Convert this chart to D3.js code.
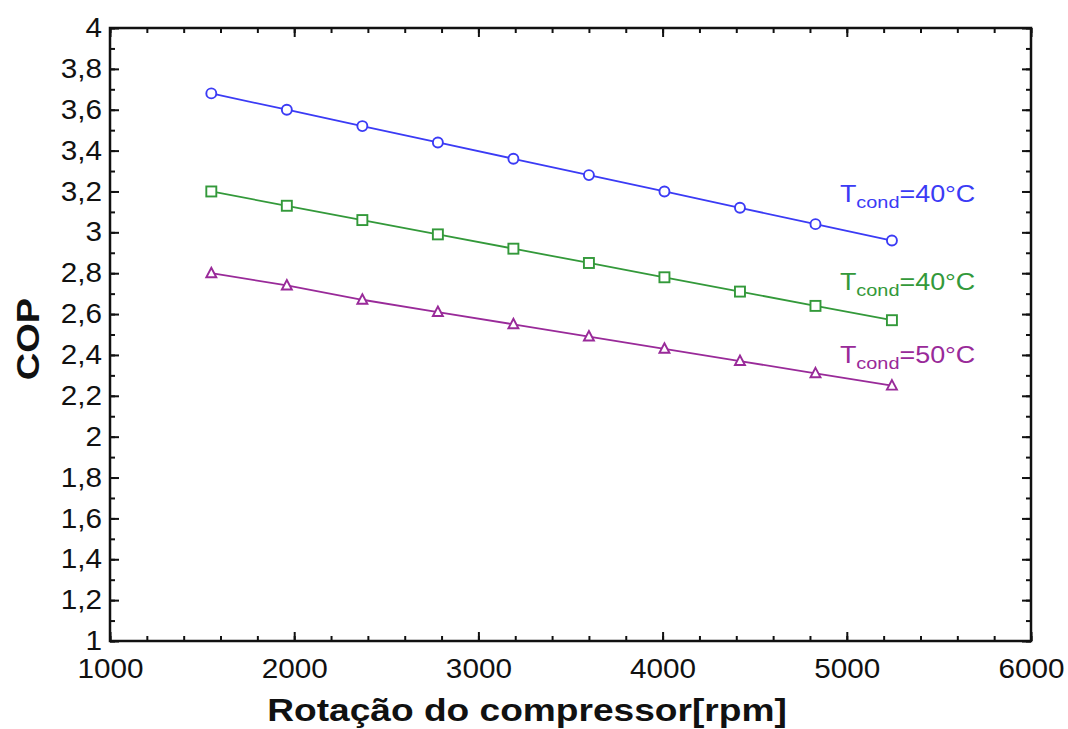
<!DOCTYPE html>
<html>
<head>
<meta charset="utf-8">
<script src="https://cdn.jsdelivr.net/npm/d3@7"></script>
<style>
  body { margin: 0; background: #fff; }
  svg { font-family: "Liberation Sans", Arial, sans-serif; }
</style>
</head>
<body>
<svg></svg>
<script>
"use strict";

const rpm = [1550, 1960, 2370, 2780, 3190, 3600, 4010, 4420, 4830, 5245];
const cop40a = [3.68, 3.6, 3.52, 3.44, 3.36, 3.28, 3.2, 3.12, 3.04, 2.96];
const cop40b = [3.2, 3.13, 3.06, 2.99, 2.92, 2.85, 2.78, 2.71, 2.64, 2.57];
const cop50 = [2.8, 2.74, 2.67, 2.61, 2.55, 2.49, 2.43, 2.37, 2.31, 2.25];
const seriesLabels = ["=40°C", "=40°C", "=50°C"];
const xTicks = [1000, 2000, 3000, 4000, 5000, 6000];
const yTicks = [1, 1.2, 1.4, 1.6, 1.8, 2, 2.2, 2.4, 2.6, 2.8, 3, 3.2, 3.4, 3.6, 3.8, 4];

const width = 1068;
const height = 729;
const margin = { left: 110, right: 37, top: 28, bottom: 88 };

const svg = d3.select("svg").attr("width", width).attr("height", height);

const xScale = d3.scaleLinear().domain([1000, 6000]).range([margin.left, width - margin.right]);
const yScale = d3.scaleLinear().domain([1, 4]).range([height - margin.bottom, margin.top]);

const fmt = (d) => String(Math.round(d * 10) / 10).replace(".", ",");

const series = [
  { values: cop40a, color: "#3b3bf5", marker: "circle", labelY: 3.15 },
  { values: cop40b, color: "#33993a", marker: "square", labelY: 2.72 },
  { values: cop50, color: "#992a99", marker: "triangle", labelY: 2.36 }
];

// minor ticks
const xMinor = d3.range(1000, 6001, 200);
const yMinor = d3.range(10, 41).map((d) => d / 10);

// the original font is wider than Liberation Sans
const widen = (sel, f) => {
  sel.each(function () {
    const w = this.getComputedTextLength();
    d3.select(this).attr("textLength", w * f).attr("lengthAdjust", "spacingAndGlyphs");
  });
};

const drawAxes = () => {
  const x0 = xScale.range()[0], x1 = xScale.range()[1];
  const y0 = yScale.range()[0], y1 = yScale.range()[1];

  svg.append("g").attr("transform", `translate(0,${y0})`)
    .call(d3.axisBottom(xScale).tickValues(xMinor).tickSize(-5).tickFormat(""));
  svg.append("g").attr("transform", `translate(0,${y0})`)
    .call(d3.axisBottom(xScale).tickValues(xTicks).tickSize(-9).tickPadding(18).tickFormat(d3.format("d")))
    .attr("class", "xaxis");
  svg.append("g").attr("transform", `translate(0,${y1})`)
    .call(d3.axisTop(xScale).tickValues(xMinor).tickSize(-5).tickFormat(""));
  svg.append("g").attr("transform", `translate(0,${y1})`)
    .call(d3.axisTop(xScale).tickValues(xTicks).tickSize(-9).tickFormat(""));

  svg.append("g").attr("transform", `translate(${x0},0)`)
    .call(d3.axisLeft(yScale).tickValues(yMinor).tickSize(-5).tickFormat(""));
  svg.append("g").attr("transform", `translate(${x0},0)`)
    .call(d3.axisLeft(yScale).tickValues(yTicks).tickSize(-9).tickPadding(8).tickFormat(fmt))
    .attr("class", "yaxis");
  svg.append("g").attr("transform", `translate(${x1},0)`)
    .call(d3.axisRight(yScale).tickValues(yMinor).tickSize(-5).tickFormat(""));
  svg.append("g").attr("transform", `translate(${x1},0)`)
    .call(d3.axisRight(yScale).tickValues(yTicks).tickSize(-9).tickFormat(""));

  svg.selectAll(".domain").remove();
  svg.selectAll(".tick line").attr("stroke", "#111").attr("stroke-width", 2);
  svg.selectAll(".xaxis text, .yaxis text")
    .attr("fill", "#111").style("font-size", "27px");
  widen(svg.selectAll(".xaxis text, .yaxis text"), 1.1);

  svg.append("rect")
    .attr("x", x0).attr("y", y1)
    .attr("width", x1 - x0).attr("height", y0 - y1)
    .attr("fill", "none").attr("stroke", "#111").attr("stroke-width", 2.5);

  svg.append("g")
    .attr("transform", "translate(527,721) scale(1.16,1)")
    .append("text")
    .attr("text-anchor", "middle")
    .style("font-size", "32px").style("font-weight", "bold")
    .attr("fill", "#111")
    .text("Rotação do compressor[rpm]");

  svg.append("g")
    .attr("transform", "translate(39,339) rotate(-90) scale(1.19,1)")
    .append("text")
    .attr("text-anchor", "middle")
    .style("font-size", "32px").style("font-weight", "bold")
    .attr("fill", "#111")
    .text("COP");
};

const drawSeries = () => {
  const line = d3.line().x((d, i) => xScale(rpm[i])).y((d) => yScale(d));

  series.forEach((s, k) => {
    svg.append("path")
      .datum(s.values)
      .attr("d", line)
      .attr("fill", "none")
      .attr("stroke", s.color)
      .attr("stroke-width", 1.8);

    const g = svg.append("g");
    const pts = g.selectAll("path.m").data(s.values).enter();
    if (s.marker === "circle") {
      pts.append("circle")
        .attr("cx", (d, i) => xScale(rpm[i]))
        .attr("cy", (d) => yScale(d))
        .attr("r", 5);
    } else if (s.marker === "square") {
      pts.append("rect")
        .attr("x", (d, i) => xScale(rpm[i]) - 5)
        .attr("y", (d) => yScale(d) - 5)
        .attr("width", 10).attr("height", 10);
    } else {
      pts.append("path")
        .attr("transform", (d, i) => `translate(${xScale(rpm[i])},${yScale(d)})`)
        .attr("d", "M0,-5.5L5,4L-5,4Z");
    }
    g.selectAll("*").attr("fill", "#fff").attr("stroke", s.color).attr("stroke-width", 1.9);

    const t = svg.append("g")
      .attr("transform", `translate(${xScale(rpm[rpm.length - 1]) - 52},${yScale(s.labelY)}) scale(1.17,1)`)
      .append("text")
      .attr("fill", s.color)
      .style("font-size", "23px");
    t.append("tspan").text("T");
    t.append("tspan").attr("dy", 6).style("font-size", "17px").text("cond");
    t.append("tspan").attr("dy", -6).text(seriesLabels[k]);
  });
};

drawAxes();
drawSeries();
</script>
</body>
</html>
